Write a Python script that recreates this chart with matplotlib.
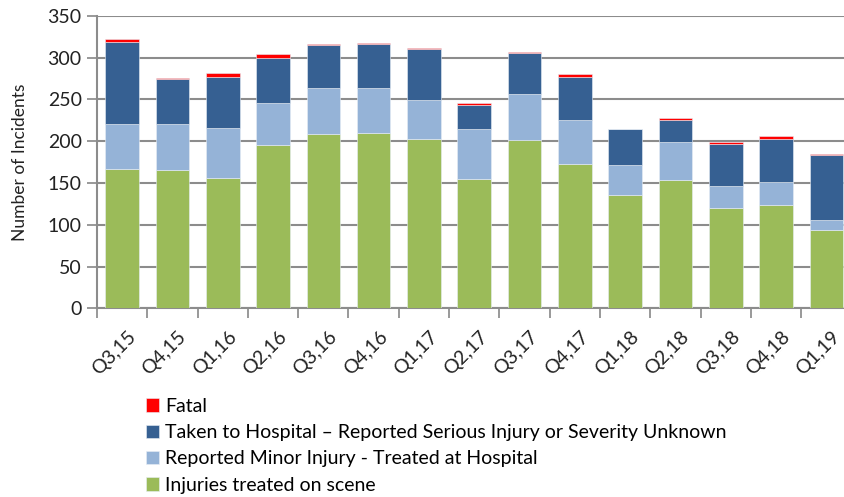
import numpy as np
import matplotlib
matplotlib.use("Agg")
import matplotlib.pyplot as plt

# data
quarters = ["Q3,15", "Q4,15", "Q1,16", "Q2,16", "Q3,16", "Q4,16", "Q1,17", "Q2,17",
            "Q3,17", "Q4,17", "Q1,18", "Q2,18", "Q3,18", "Q4,18", "Q1,19"]
on_scene = [167, 165, 156, 195, 209, 210, 202, 155, 201, 173, 135, 154, 120, 123, 94]
minor_hosp = [53, 55, 60, 51, 54, 54, 47, 60, 55, 52, 37, 45, 26, 28, 12]
serious = [99, 54, 61, 54, 52, 52, 61, 28, 49, 52, 42, 26, 50, 51, 77]
fatal = [3, 2, 4, 4, 1.5, 1, 1.5, 2, 2, 3, 0, 3, 3, 4, 2]

labels = ["Injuries treated on scene",
          "Reported Minor Injury - Treated at Hospital",
          "Taken to Hospital \u2013 Reported Serious Injury or Severity Unknown",
          "Fatal"]
colors = ["#9BBB59", "#95B3D7", "#366092", "#FF0000"]

plt.rcParams["font.family"] = ["Lato", "DejaVu Sans"]

fig = plt.figure(figsize=(8.45, 4.97), dpi=100)
ax = fig.add_axes([97 / 845, 188.7 / 497, 754.5 / 845, 292.6 / 497])

x = np.arange(len(quarters))
bottom = np.zeros(len(quarters))
handles = []
for vals, lab, col in zip([on_scene, minor_hosp, serious, fatal], labels, colors):
    vals = np.array(vals, dtype=float)
    b = ax.bar(x, vals, 0.667, bottom=bottom, color=col, label=lab,
               edgecolor="#e8eef5", linewidth=0.4, zorder=3)
    handles.append(b)
    bottom += vals

ax.set_xlim(-0.5, len(quarters) - 0.5)
ax.set_ylim(0, 350)
ax.set_yticks(np.arange(0, 351, 50))
ax.tick_params(axis="y", labelsize=14, length=7, width=1.2, color="#888888",
               pad=4, labelcolor="#222222")

ax.set_xticks(np.arange(-0.5, len(quarters), 1.0))
ax.set_xticklabels([])
ax.tick_params(axis="x", length=7, width=1.2, color="#888888")
for xi, q in zip(x, quarters):
    ax.text(xi + 0.1, -24, q, rotation=45, ha="right", va="top",
            rotation_mode="anchor", fontsize=14, color="#222222", clip_on=False)

ax.grid(axis="y", color="#8c8c8c", linewidth=1.5, zorder=0)
for s in ["top", "right"]:
    ax.spines[s].set_visible(False)
for s in ["left", "bottom"]:
    ax.spines[s].set_color("#8c8c8c")
    ax.spines[s].set_linewidth(1.5)

ax.set_ylabel("Number of Incidents", fontsize=12.5, color="#222222", labelpad=14)

fig.legend(handles[::-1], labels[::-1], loc="upper left",
           bbox_to_anchor=(138 / 845, 1 - 390 / 497), frameon=False,
           fontsize=14, handlelength=0.7, handleheight=0.7,
           handletextpad=0.3, labelspacing=0.48, borderaxespad=0)

fig.savefig("out.png", dpi=100)
